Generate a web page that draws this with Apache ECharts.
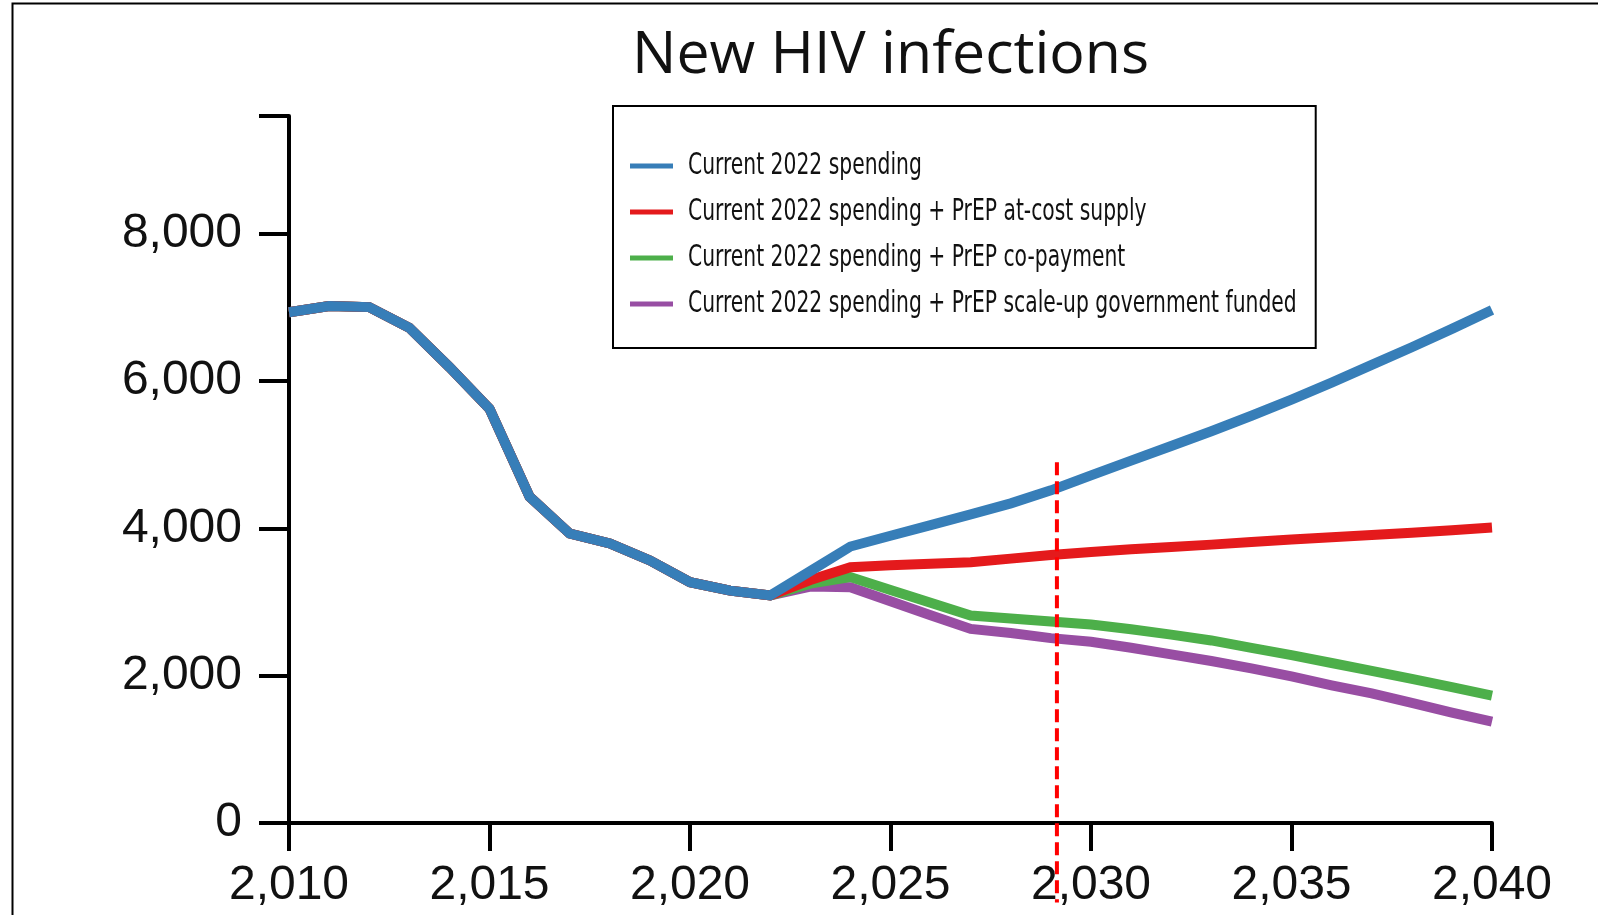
<!DOCTYPE html>
<html>
<head>
<meta charset="utf-8">
<script src="https://cdn.jsdelivr.net/npm/echarts@6/dist/echarts.min.js"></script>
<style>
  html, body { margin: 0; padding: 0; background: #fff; }
  #chart { width: 1598px; height: 915px; }
</style>
</head>
<body>
<div id="chart"></div>
<script>
const years = [2010, 2011, 2012, 2013, 2014, 2015, 2016, 2017, 2018, 2019, 2020,
  2021, 2022, 2023, 2024, 2025, 2026, 2027, 2028, 2029, 2030,
  2031, 2032, 2033, 2034, 2035, 2036, 2037, 2038, 2039, 2040]

// shared history 2010-2022
const history = [6935, 7020, 7005, 6725, 6190, 5625, 4430, 3930, 3795, 3565, 3270, 3155, 3090]

const currentSpending = history.concat([3420, 3754, 3900, 4045, 4190, 4340, 4517, 4720,
  4920, 5120, 5320, 5530, 5750, 5980, 6220, 6460, 6710, 6965])
const atCostSupply = history.concat([3300, 3473, 3500, 3520, 3541, 3590, 3640, 3680,
  3716, 3748, 3780, 3816, 3850, 3880, 3910, 3940, 3975, 4012])
const coPayment = history.concat([3250, 3340, 3165, 2990, 2817, 2776, 2735, 2694,
  2630, 2558, 2479, 2379, 2279, 2173, 2065, 1956, 1845, 1731])
const govFunded = history.concat([3210, 3200, 3010, 2820, 2636, 2580, 2510, 2460,
  2380, 2290, 2200, 2100, 1990, 1870, 1760, 1630, 1500, 1375])

const seriesNames = [
  'Current 2022 spending',
  'Current 2022 spending + PrEP at-cost supply',
  'Current 2022 spending + PrEP co-payment',
  'Current 2022 spending + PrEP scale-up government funded'
]
const seriesColors = ['#377eb8', '#e41a1c', '#4daf4a', '#984ea3']

const yTicks = [0, 2000, 4000, 6000, 8000, 9600]
const yLabels = [0, 2000, 4000, 6000, 8000]

// vertical dashed marker (year, and its top / bottom values)
const cutoffYear = 2029.15
const cutoffSpan = [4900, -1080]

const fmt = (v) => String(v).replace(/\B(?=(\d{3})+(?!\d))/g, ',')
const pairs = (vals) => years.map((y, i) => [y, vals[i]])

// legend box geometry
const legendLeft = 613
const legendTop = 106
const legendPadTop = 46
const legendRowH = 28
const legendGap = 18
const legendIconW = 43
const legendTextX = 688
const legendFont = "'DejaVu Sans Condensed', 'DejaVu Sans', sans-serif"

const chart = echarts.init(document.getElementById('chart'))

const lineSeries = [currentSpending, atCostSupply, coPayment, govFunded].map((vals, i) => ({
  name: seriesNames[i],
  type: 'line',
  data: pairs(vals),
  symbol: 'none',
  z: 10 - i,
  lineStyle: { width: 10, color: seriesColors[i], join: 'miter' },
  itemStyle: { color: seriesColors[i] }
}))

// the legend labels use a narrow face, so they are drawn squeezed horizontally
const legendLabels = seriesNames.map((name, i) => ({
  type: 'text',
  x: legendTextX,
  y: legendTop + legendPadTop + legendRowH / 2 + i * (legendRowH + legendGap),
  scaleX: 0.765,
  silent: true,
  z: 100,
  style: {
    text: name,
    fill: '#111',
    font: '29.5px ' + legendFont,
    textAlign: 'left',
    textVerticalAlign: 'middle'
  }
}))

chart.setOption({
  animation: false,
  backgroundColor: '#fff',
  title: {
    text: 'New HIV infections',
    left: 627,
    top: 22,
    textStyle: { fontFamily: 'Open Sans', fontWeight: 'normal', fontSize: 59, color: '#111' }
  },
  legend: {
    data: seriesNames,
    orient: 'vertical',
    left: legendLeft,
    top: legendTop,
    padding: [legendPadTop, 632, 30, 17],
    itemGap: legendGap,
    itemWidth: legendIconW,
    itemHeight: 5,
    icon: 'rect',
    borderColor: '#000',
    borderWidth: 2,
    borderRadius: 0,
    formatter: () => ' ',
    textStyle: {
      fontFamily: legendFont,
      fontSize: 20,
      lineHeight: legendRowH,
      color: '#111'
    }
  },
  grid: { left: 289, right: 106, top: 116, bottom: 92 },
  xAxis: {
    type: 'value',
    min: 2010,
    max: 2040,
    interval: 5,
    splitLine: { show: false },
    axisLine: { lineStyle: { color: '#000', width: 4 } },
    axisTick: { length: 28, lineStyle: { color: '#000', width: 4 } },
    axisLabel: {
      margin: 39,
      color: '#111',
      fontFamily: 'Liberation Sans',
      fontSize: 48,
      formatter: fmt
    }
  },
  yAxis: {
    type: 'value',
    min: 0,
    max: 9600,
    splitLine: { show: false },
    axisLine: { show: true, lineStyle: { color: '#000', width: 4 } },
    axisTick: { show: true, length: 30, customValues: yTicks, lineStyle: { color: '#000', width: 4 } },
    axisLabel: {
      margin: 47,
      color: '#111',
      fontFamily: 'Liberation Sans',
      fontSize: 48,
      customValues: yLabels,
      formatter: fmt
    }
  },
  graphic: [{
    type: 'rect',
    left: 10,
    top: 1,
    shape: { width: 1700, height: 1000 },
    style: { fill: 'none', stroke: '#000', lineWidth: 2 },
    silent: true
  }].concat(legendLabels),
  series: lineSeries.concat([{
    name: 'cutoff',
    type: 'line',
    data: [[cutoffYear, cutoffSpan[0]], [cutoffYear, cutoffSpan[1]]],
    symbol: 'none',
    clip: false,
    silent: true,
    z: 20,
    lineStyle: { color: '#ff0000', width: 4, type: [13, 6] }
  }])
})
</script>
</body>
</html>
